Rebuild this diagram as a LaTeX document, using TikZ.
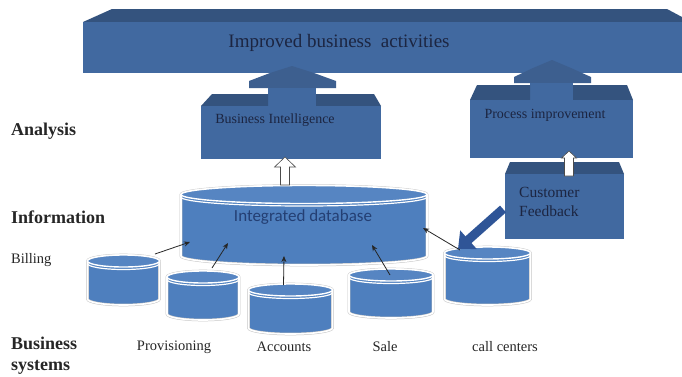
\documentclass[tikz,border=0pt]{standalone}
\usepackage{fontspec}
\setmainfont{Liberation Serif}
\newfontfamily\calib{Carlito}
\usetikzlibrary{arrows.meta,calc}
\definecolor{frontc}{HTML}{4169A0}
\definecolor{topc}{HTML}{34537E}
\definecolor{headc}{HTML}{3D5F8F}
\definecolor{cylc}{HTML}{4E7FBE}
\definecolor{cyltopc}{HTML}{5685C2}
\definecolor{navy}{HTML}{1C2541}
\definecolor{dbtext}{HTML}{243F73}
\definecolor{fbblue}{HTML}{2F5597}
\tikzset{
  face/.style={fill=frontc, draw=none, inner sep=0pt},
  topface/.style={fill=topc},
  headface/.style={fill=headc},
  cylbody/.style={fill=cylc, draw=gray!45, double=white, double distance=1.6pt, line width=0.5pt},
  cyllid/.style={fill=cyltopc, draw=white, line width=1.4pt},
  lbl/.style={font=\fontsize{14.5}{17}\selectfont, text=black!85, inner sep=0pt},
  blbl/.style={font=\bfseries\fontsize{18}{21}\selectfont, text=black!85, inner sep=0pt, anchor=west, align=left},
  boxtxt/.style={font=\fontsize{14}{19}\selectfont, text=navy, inner sep=0pt},
  hollowst/.style={draw=black!70, fill=white, line width=0.6pt, line join=miter},
  feed/.style={-{Triangle[length=14pt,width=24pt]}, line width=9pt, draw=fbblue},
  link/.style={-{Stealth[length=6pt,width=5pt]}, line width=0.8pt, draw=black!85},
}
% #1 name, #2 cx, #3 top y, #4 bottom y, #5 rx, #6 ry
\newcommand\mycyl[6]{%
  \path[cylbody] ({#2-#5},#3) -- ({#2-#5},#4) arc[start angle=180,end angle=360,x radius=#5pt,y radius=#6pt] -- ({#2+#5},#3) arc[start angle=0,end angle=180,x radius=#5pt,y radius=#6pt] -- cycle;
  \draw[white, line width=1.2pt] ({#2-#5},{#3-2.5}) arc[start angle=180,end angle=360,x radius=#5pt,y radius=#6pt];
  \path[cyllid] (#2,#3) ellipse[x radius=#5pt,y radius=#6pt];
  \node[inner sep=0pt, minimum width={2*#5}, minimum height={#3-#4}] (#1) at (#2,{(#3+#4)/2}) {};
}
% hollow up arrow: #1 tip coordinate, #2 length, #3 shaft half, #4 head half, #5 head length
\newcommand\hollowup[5]{%
  \draw[hollowst] ($(#1)+(-#3,-#2)$) -- ($(#1)+(-#3,-#5)$) -- ($(#1)+(-#4,-#5)$) -- (#1) -- ($(#1)+(#4,-#5)$) -- ($(#1)+(#3,-#5)$) -- ($(#1)+(#3,-#2)$) -- cycle;
}
\begin{document}
\begin{tikzpicture}[x=1pt,y=1pt]
\useasboundingbox (0,0) rectangle (682,-376);
\fill[white] (0,0) rectangle (682,-376);

% big box
\fill[topface] (83,-22) -- (112,-9) -- (667,-9) -- (682,-17) -- (682,-22) -- cycle;
\node[face, minimum width=599, minimum height=51] (imp) at (382.5,-47.5) {};
\node[boxtxt, font=\fontsize{19}{22}\selectfont] (imptxt) at (339,-43) {Improved business\ \ activities};

% Business Intelligence
\fill[headface] (249,-88) -- (249,-81) -- (270,-73) -- (292,-66) -- (314,-73) -- (336,-81) -- (336,-88) -- cycle;
\fill[frontc] (268,-106) rectangle (316,-88);
\fill[topface] (201,-106) -- (212,-94) -- (268,-94) -- (268,-106) -- cycle;
\fill[topface] (316,-106) -- (316,-94) -- (374,-94) -- (381,-106) -- cycle;
\node[face, minimum width=180, minimum height=53] (bi) at (291,-132.5) {};
\node[boxtxt] (bitxt) at (275,-120) {Business Intelligence};

% Process improvement
\fill[headface] (514,-83) -- (514,-77) -- (533,-68) -- (552,-60) -- (571,-68) -- (591,-77) -- (591,-83) -- cycle;
\fill[frontc] (530,-100) rectangle (573,-83);
\fill[topface] (470,-100) -- (477,-85) -- (530,-85) -- (530,-100) -- cycle;
\fill[topface] (573,-100) -- (573,-85) -- (627,-85) -- (633,-100) -- cycle;
\node[face, minimum width=163, minimum height=58] (pi) at (551.5,-129) {};
\node[boxtxt] (pitxt) at (545,-115) {Process improvement};

% Customer Feedback
\fill[topface] (505,-174) -- (510,-162) -- (619,-162) -- (624,-174) -- cycle;
\node[face, minimum width=119, minimum height=65] (cf) at (564.5,-206.5) {};
\node[boxtxt, anchor=west, align=left, font=\fontsize{15.5}{19}\selectfont] (cftxt) at (519,-202) {Customer\\Feedback};

% databases
\mycyl{idb}{304}{-194.5}{-256}{123}{9}
\node[font=\calib\fontsize{17}{20}\selectfont, text=dbtext, inner sep=0pt] (idbtxt) at (303,-217) {Integrated database};
\mycyl{bill}{123.5}{-261}{-299}{36}{6}
\mycyl{prov}{203}{-277}{-314}{36}{6}
\mycyl{acc}{290.5}{-290}{-328}{42}{6}
\mycyl{sale}{391}{-275}{-312}{42}{6}
\mycyl{call}{487.5}{-253}{-299}{43}{6}

% hollow arrows
\coordinate (bitip) at (285,-157);
\hollowup{bitip}{28}{4.5}{10.5}{10}
\coordinate (pitip) at (569,-151);
\hollowup{pitip}{25}{4.5}{7.5}{7}

% feedback arrow
\coordinate (fbs) at (503,-209);
\coordinate (fbt) at (458,-249);
\draw[feed] (fbs) -- (fbt);

% links
\coordinate (billA) at (155,-254); \coordinate (idbA) at (190,-242);
\coordinate (provA) at (212,-268); \coordinate (idbB) at (228,-243);
\coordinate (accA) at (283.5,-285); \coordinate (idbC) at (284,-256);
\coordinate (saleA) at (390,-275); \coordinate (idbD) at (372,-245);
\coordinate (callA) at (460,-250); \coordinate (idbE) at (423,-228);
\draw[link] (billA) -- (idbA);
\draw[link] (provA) -- (idbB);
\draw[link] (accA) -- (idbC);
\draw[link] (saleA) -- (idbD);
\draw[link] (callA) -- (idbE);

% labels
\node[blbl] (analysis) at (11,-131) {Analysis};
\node[blbl] (info) at (11,-217) {Information};
\node[lbl, anchor=west] (billing) at (11,-260) {Billing};
\node[blbl] (bsys) at (11,-356) {Business\\systems};
\node[lbl] (provl) at (174,-347) {Provisioning};
\node[lbl] (accl) at (284,-347) {Accounts};
\node[lbl] (salel) at (385,-347) {Sale};
\node[lbl] (calll) at (505,-347) {call centers};
\end{tikzpicture}
\end{document}
